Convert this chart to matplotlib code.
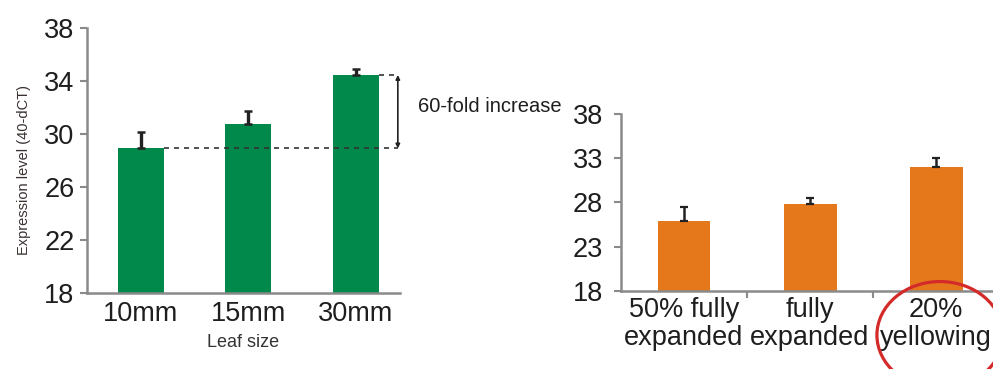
import matplotlib
matplotlib.use("Agg")
import matplotlib.pyplot as plt
from matplotlib.patches import Ellipse

plt.rcParams['font.family'] = ['Liberation Sans', 'DejaVu Sans']

# left panel: leaf size
leaf_sizes = ['10mm', '15mm', '30mm']
leaf_vals = [28.9, 30.75, 34.45]
leaf_err = [1.25, 1.0, 0.45]

# right panel: leaf stage
stages = ['50% fully\nexpanded', 'fully\nexpanded', '20%\nyellowing']
stage_vals = [25.95, 27.85, 32.0]
stage_err = [1.55, 0.7, 1.05]

GREEN = '#00894a'
ORANGE = '#e5781b'
AXIS = '#8a8a8a'
TXT = '#1e1e1e'

fig = plt.figure(figsize=(9.93, 3.69), dpi=100)

def style_axes(ax, pad):
    for s in ['top', 'right']:
        ax.spines[s].set_visible(False)
    for s in ['left', 'bottom']:
        ax.spines[s].set_color(AXIS)
        ax.spines[s].set_linewidth(1.8)
    ax.tick_params(axis='y', colors=AXIS, labelcolor=TXT, labelsize=19.5,
                   length=5, width=1.5, pad=pad)

# ---- left chart
ax1 = fig.add_axes([0.0876, 0.2068, 0.3152, 0.7173])
x1 = list(range(len(leaf_sizes)))
ax1.bar(x1, leaf_vals, width=0.43, color=GREEN, zorder=2)
ax1.errorbar(x1, leaf_vals, yerr=[[0] * 3, leaf_err], fmt='none',
             ecolor='#222222', elinewidth=2.4, capsize=3, capthick=1.8, zorder=3)
ax1.set_ylim(18, 38)
ax1.set_yticks([18, 22, 26, 30, 34, 38])
ax1.set_xlim(-0.5, 2.41)
ax1.set_xticks(x1)
ax1.set_xticklabels(leaf_sizes)
style_axes(ax1, 4)
ax1.tick_params(axis='x', length=0, labelsize=19.5, labelcolor=TXT, pad=6)
ax1.set_xlabel('Leaf size', fontsize=13, color='#333333', labelpad=5)
ax1.set_ylabel('Expression level (40-dCT)', fontsize=10.5, color='#3a3030')
ax1.yaxis.set_label_coords(-0.178, 0.465)

# dashed reference lines and fold arrow
arrow_x = 2.39
ax1.plot([0.215, arrow_x], [leaf_vals[0]] * 2, ls=(0, (3, 3)), color='#333333',
         lw=1.2, clip_on=False, zorder=4)
ax1.plot([2.215, arrow_x], [leaf_vals[2]] * 2, ls=(0, (3, 3)), color='#333333',
         lw=1.2, clip_on=False, zorder=4)
ax1.annotate('', xy=(arrow_x, leaf_vals[2]), xytext=(arrow_x, leaf_vals[0]),
             arrowprops=dict(arrowstyle='<|-|>', color='#222222', lw=1.2,
                             mutation_scale=6, shrinkA=0, shrinkB=0),
             annotation_clip=False)
ax1.text(2.58, 32.1, '60-fold increase', fontsize=14.5, color=TXT,
         va='center', ha='left', clip_on=False)

# ---- right chart
ax2 = fig.add_axes([0.6254, 0.2114, 0.3807, 0.4797])
x2 = list(range(len(stages)))
ax2.bar(x2, stage_vals, width=0.42, color=ORANGE, zorder=2)
ax2.errorbar(x2, stage_vals, yerr=[[0] * 3, stage_err], fmt='none',
             ecolor='#222222', elinewidth=1.8, capsize=3, capthick=1.6, zorder=3)
ax2.set_ylim(18, 38)
ax2.set_yticks([18, 23, 28, 33, 38])
ax2.set_xlim(-0.5, 2.5)
ax2.set_xticks(x2)
ax2.set_xticklabels(stages, linespacing=1.12)
ax2.set_xticks([0.5, 1.5], minor=True)
style_axes(ax2, 8)
ax2.tick_params(axis='x', which='major', length=0, labelsize=19.5,
                labelcolor=TXT, pad=4)
ax2.tick_params(axis='x', which='minor', length=5, width=1.5, color=AXIS)

# red highlight ring around last category
fig.add_artist(Ellipse((0.9466, 0.092), 0.127, 0.29, transform=fig.transFigure,
                       fill=False, edgecolor='#d42a2a', lw=2.3))

fig.savefig('out.png', dpi=100)
